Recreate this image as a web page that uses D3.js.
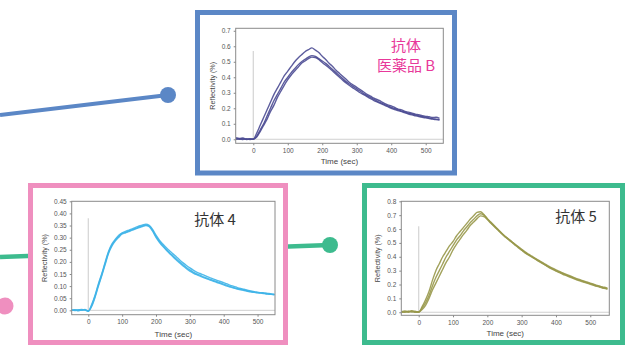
<!DOCTYPE html>
<html><head><meta charset="utf-8">
<script src="https://cdn.jsdelivr.net/npm/d3@7"></script>
<style>body{margin:0;background:#fff}svg{display:block}</style>
</head><body>
<svg id="c" width="637" height="347"></svg>
<script>
// ---- data ----
const timeTop = d3.range(-50, 541, 10);   // sampling grid (sec)
const timeBot = d3.range(-50, 551, 10);
const xTicks = [0, 100, 200, 300, 400, 500];
const yTicksTop = [0, 0.1, 0.2, 0.3, 0.4, 0.5, 0.6, 0.7];
const yTicksAb4 = [0, 0.05, 0.10, 0.15, 0.20, 0.25, 0.30, 0.35, 0.40, 0.45];
const yTicksAb5 = [0, 0.1, 0.2, 0.3, 0.4, 0.5, 0.6, 0.7, 0.8];
const labelTop = ["抗体", "医薬品 B"];
const labelAb4 = "抗体 4";
const labelAb5 = "抗体 5";

const drugB_1 = [0.010,0.005,0.008,0.000,0.004,0.000,0.040,0.090,0.140,0.190,0.240,0.290,0.330,0.370,0.410,0.440,0.470,0.500,0.525,0.545,0.565,0.578,0.590,0.575,0.560,0.535,0.515,0.490,0.470,0.445,0.425,0.405,0.385,0.365,0.350,0.335,0.320,0.305,0.290,0.278,0.265,0.255,0.245,0.232,0.222,0.215,0.205,0.195,0.190,0.180,0.175,0.168,0.162,0.158,0.152,0.148,0.145,0.140,0.142,0.135];
const drugB_2 = [0.005,0.000,0.003,-0.002,0.000,0.000,0.020,0.060,0.100,0.150,0.200,0.250,0.290,0.330,0.370,0.400,0.430,0.455,0.480,0.500,0.515,0.530,0.540,0.535,0.520,0.505,0.490,0.470,0.450,0.430,0.410,0.390,0.370,0.355,0.340,0.325,0.310,0.295,0.282,0.270,0.258,0.245,0.235,0.225,0.215,0.205,0.198,0.190,0.182,0.175,0.168,0.162,0.157,0.150,0.146,0.142,0.138,0.133,0.130,0.127];
const drugB_3 = [0.000,0.004,-0.002,0.003,-0.001,0.002,0.015,0.050,0.090,0.130,0.180,0.220,0.270,0.310,0.350,0.385,0.415,0.440,0.465,0.490,0.505,0.520,0.530,0.528,0.515,0.495,0.478,0.460,0.440,0.420,0.400,0.380,0.362,0.345,0.330,0.315,0.300,0.288,0.275,0.262,0.250,0.240,0.230,0.220,0.210,0.200,0.192,0.185,0.178,0.170,0.163,0.157,0.152,0.147,0.142,0.138,0.134,0.130,0.127,0.124];

const ab4_1 = [0.002,-0.001,0.003,0.000,0.004,-0.004,0.020,0.058,0.105,0.148,0.195,0.240,0.270,0.290,0.305,0.318,0.322,0.328,0.333,0.338,0.344,0.348,0.352,0.348,0.330,0.305,0.285,0.268,0.252,0.238,0.225,0.212,0.200,0.188,0.177,0.167,0.158,0.150,0.145,0.138,0.133,0.128,0.123,0.118,0.113,0.108,0.103,0.098,0.094,0.090,0.087,0.084,0.080,0.078,0.075,0.073,0.072,0.070,0.068,0.067,0.065];
const ab4_2 = [0.000,0.003,0.001,0.004,0.002,-0.002,0.024,0.062,0.110,0.152,0.200,0.244,0.274,0.294,0.310,0.320,0.326,0.331,0.336,0.342,0.348,0.352,0.356,0.351,0.334,0.310,0.290,0.274,0.259,0.246,0.233,0.221,0.208,0.196,0.185,0.175,0.166,0.158,0.152,0.146,0.140,0.134,0.129,0.124,0.119,0.114,0.109,0.103,0.099,0.094,0.090,0.087,0.083,0.080,0.077,0.075,0.073,0.072,0.070,0.068,0.067];
const ab4_3 = [0.001,0.002,-0.002,0.002,0.001,-0.003,0.016,0.054,0.100,0.144,0.190,0.236,0.266,0.287,0.302,0.315,0.320,0.325,0.331,0.336,0.341,0.346,0.350,0.345,0.327,0.301,0.281,0.264,0.249,0.235,0.221,0.208,0.195,0.183,0.172,0.162,0.154,0.147,0.141,0.135,0.130,0.125,0.120,0.115,0.110,0.105,0.100,0.096,0.092,0.088,0.085,0.082,0.079,0.076,0.074,0.072,0.071,0.069,0.067,0.066,0.064];

const ab5_1 = [0.005,0.010,0.000,0.012,0.005,0.000,0.040,0.090,0.150,0.230,0.300,0.350,0.400,0.440,0.480,0.510,0.550,0.580,0.610,0.640,0.670,0.695,0.720,0.725,0.705,0.675,0.650,0.625,0.600,0.575,0.550,0.530,0.510,0.490,0.470,0.450,0.430,0.415,0.400,0.385,0.370,0.355,0.340,0.325,0.312,0.300,0.290,0.278,0.268,0.258,0.248,0.238,0.230,0.222,0.214,0.206,0.198,0.190,0.183,0.176,0.170];
const ab5_2 = [0.000,0.004,0.008,0.002,0.006,0.001,0.030,0.070,0.120,0.190,0.250,0.300,0.350,0.400,0.440,0.480,0.520,0.550,0.585,0.615,0.645,0.670,0.695,0.710,0.700,0.672,0.646,0.622,0.598,0.574,0.552,0.532,0.512,0.492,0.473,0.454,0.435,0.419,0.404,0.389,0.374,0.359,0.345,0.331,0.318,0.306,0.295,0.283,0.273,0.263,0.253,0.243,0.235,0.226,0.218,0.210,0.202,0.194,0.187,0.180,0.174];
const ab5_3 = [0.003,0.000,0.005,0.007,0.000,0.002,0.020,0.050,0.100,0.160,0.210,0.260,0.310,0.360,0.400,0.450,0.490,0.525,0.560,0.590,0.625,0.650,0.675,0.695,0.690,0.668,0.643,0.618,0.594,0.570,0.547,0.527,0.506,0.486,0.466,0.447,0.428,0.412,0.397,0.382,0.367,0.352,0.337,0.322,0.309,0.297,0.286,0.274,0.264,0.254,0.244,0.234,0.226,0.218,0.210,0.202,0.194,0.186,0.179,0.172,0.166];

// ---- drawing ----
const svg = d3.select("#c");
const font = "'Liberation Sans', Arial, sans-serif";
const cjk = "'Noto Sans CJK JP', 'Noto Sans', sans-serif";

// connectors
svg.append("line").attr("x1",0).attr("y1",115).attr("x2",168).attr("y2",95)
  .attr("stroke","#5b87c6").attr("stroke-width",4);
svg.append("circle").attr("cx",168).attr("cy",95).attr("r",8).attr("fill","#5b87c6");
svg.append("line").attr("x1",0).attr("y1",257).attr("x2",330).attr("y2",245)
  .attr("stroke","#3dbb8e").attr("stroke-width",4.5);
svg.append("circle").attr("cx",330).attr("cy",245).attr("r",8).attr("fill","#3dbb8e");
svg.append("circle").attr("cx",5).attr("cy",306).attr("r",8.5).attr("fill","#ef8fbf");

function panel(cfg) {
  const g = svg.append("g");
  g.append("rect").attr("x",cfg.box[0]).attr("y",cfg.box[1])
    .attr("width",cfg.box[2]-cfg.box[0]).attr("height",cfg.box[3]-cfg.box[1])
    .attr("fill","#fff").attr("stroke",cfg.border).attr("stroke-width",5);
  const [L,T,R,B] = cfg.plot;
  const x = d3.scaleLinear().domain(cfg.xd).range([L,R]);
  const y = d3.scaleLinear().domain(cfg.yd).range([B,T]);
  g.append("line").attr("x1",L).attr("x2",R).attr("y1",y(0)).attr("y2",y(0))
    .attr("stroke","#d0d0d0").attr("stroke-width",1);
  g.append("line").attr("x1",x(0)).attr("x2",x(0)).attr("y1",y(cfg.mark)).attr("y2",y(0))
    .attr("stroke","#d4d4d4").attr("stroke-width",1.2);
  const clipId = "clip" + cfg.id;
  svg.append("clipPath").attr("id",clipId).append("rect")
    .attr("x",L).attr("y",T).attr("width",R-L).attr("height",B-T);
  const line = d3.line().x((d,i)=>x(cfg.t[i])).y(d=>y(d)).curve(d3.curveMonotoneX);
  const cg = g.append("g").attr("clip-path",`url(#${clipId})`);
  cfg.series.forEach(s => {
    cg.append("path").attr("d",line(s)).attr("fill","none")
      .attr("stroke",cfg.color).attr("stroke-width",1.4).attr("stroke-opacity",0.9);
  });
  g.append("rect").attr("x",L).attr("y",T).attr("width",R-L).attr("height",B-T)
    .attr("fill","none").attr("stroke","#8a8a8a").attr("stroke-width",1);
  const ya = d3.axisLeft(y).tickValues(cfg.yt).tickSize(2).tickPadding(3)
    .tickFormat(d3.format(cfg.yf));
  const yg = g.append("g").attr("transform",`translate(${L},0)`).call(ya);
  const xa = d3.axisBottom(x).tickValues(xTicks).tickSize(2).tickPadding(3);
  const xg = g.append("g").attr("transform",`translate(0,${B})`).call(xa);
  [yg,xg].forEach(a => {
    a.select(".domain").remove();
    a.selectAll("line").attr("stroke","#888");
    a.selectAll("text").attr("font-family",font).attr("font-size",6.5).attr("fill","#555");
  });
  g.append("text").attr("x",(L+R)/2).attr("y",cfg.xTitleY).attr("text-anchor","middle")
    .attr("dominant-baseline","middle").attr("font-family",font).attr("font-size",8)
    .attr("fill","#444").text("Time (sec)");
  g.append("text").attr("transform",`translate(${cfg.yTitleX},${(T+B)/2}) rotate(-90)`)
    .attr("text-anchor","middle").attr("dominant-baseline","middle").attr("font-family",font)
    .attr("font-size",7.2).attr("fill","#444").text("Reflectivity (%)");
  cfg.labels.forEach(l => {
    g.append("text").attr("x",l.x).attr("y",l.y).attr("text-anchor","middle")
      .attr("dominant-baseline","central").attr("font-family",cjk).attr("font-size",15)
      .attr("fill",cfg.labelColor).text(l.text);
  });
}

panel({id:"top", box:[197.5,12.5,454.5,173], border:"#5b87c6",
  plot:[235.7,28.3,443.3,143.3], xd:[-51,551], yd:[-0.026,0.716],
  t:timeTop, series:[drugB_1,drugB_2,drugB_3], color:"#4a4a92", mark:0.57,
  yt:yTicksTop, yf:".1f", xTitleY:162, yTitleX:213,
  labels:[{text:labelTop[0],x:406,y:44},{text:labelTop[1],x:406,y:64}], labelColor:"#e8389a"});

panel({id:"ab4", box:[30.5,185.5,285.5,342.5], border:"#ef8fbf",
  plot:[71.7,201.3,275,314.7], xd:[-49,551.5], yd:[-0.018,0.45],
  t:timeBot, series:[ab4_1,ab4_2,ab4_3], color:"#3fb4e8", mark:0.38,
  yt:yTicksAb4, yf:".2f", xTitleY:334.7, yTitleX:45,
  labels:[{text:labelAb4,x:215,y:218}], labelColor:"#333"});

panel({id:"ab5", box:[364.5,185.5,622.5,342.5], border:"#3dbb8e",
  plot:[401.3,201.3,609.3,315.3], xd:[-50.7,555.4], yd:[-0.022,0.8],
  t:timeBot, series:[ab5_1,ab5_2,ab5_3], color:"#98984a", mark:0.62,
  yt:yTicksAb5, yf:".1f", xTitleY:334, yTitleX:377.7,
  labels:[{text:labelAb5,x:576,y:215}], labelColor:"#333"});
</script>
</body></html>
